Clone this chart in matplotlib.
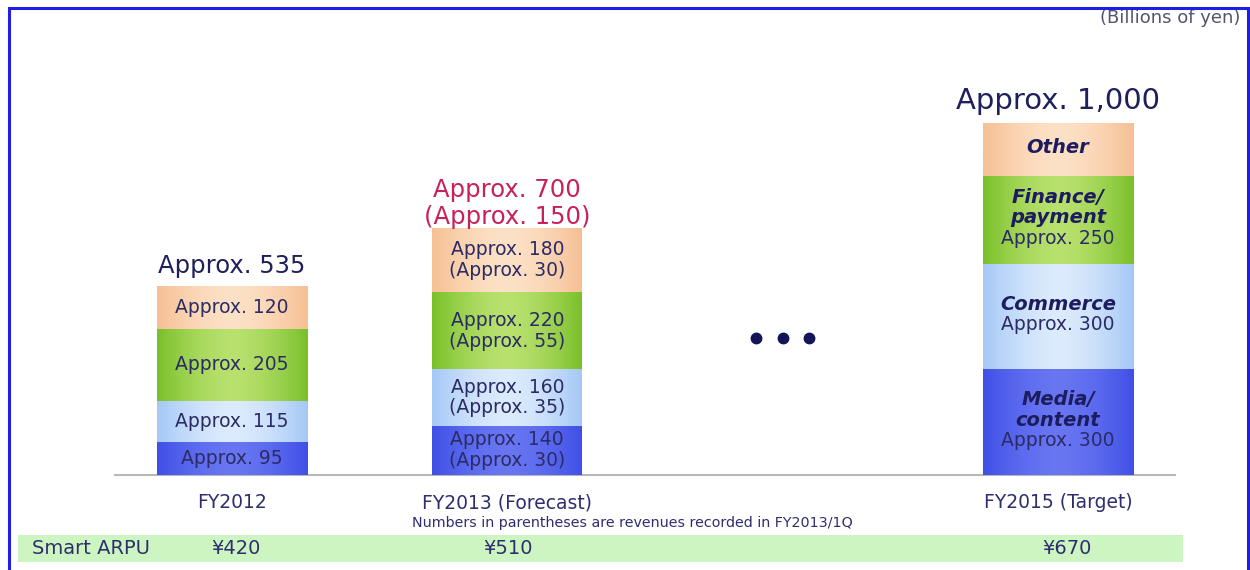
import numpy as np
import matplotlib
matplotlib.use("Agg")
import matplotlib.pyplot as plt
from matplotlib.patches import Rectangle

# ---- data -------------------------------------------------------------
years = ["FY2012", "FY2013 (Forecast)", "FY2015 (Target)"]
year_pos = [0, 1, 3]            # slot 2 holds the ellipsis
segments = ["Media/content", "Commerce", "Finance/payment", "Other"]

media = [95, 140, 300]
commerce = [115, 160, 300]
finance = [205, 220, 250]
other = [120, 180, 150]

q1_media = [None, 30, None]
q1_commerce = [None, 35, None]
q1_finance = [None, 55, None]
q1_other = [None, 30, None]

totals = [535, 700, 1000]
total_labels = ["Approx. 535", "Approx. 700\n(Approx. 150)", "Approx. 1,000"]
target_names = ["Media/\ncontent", "Commerce", "Finance/\npayment", "Other"]
target_show_value = [True, True, True, False]

arpu_label = "Smart ARPU"
arpu = ["¥420", "¥510", "¥670"]

# ---- layout -----------------------------------------------------------
W, H = 1250, 570
fig = plt.figure(figsize=(W / 100, H / 100), dpi=100)
fig.patch.set_facecolor("white")

px_per_unit_x = 275.3
px_per_unit_y = 0.352
x0_px, base_px = 232, 475
ax = fig.add_axes([0, 0, 1, 1])
ax.set_axis_off()
xlim = (-x0_px / px_per_unit_x, (W - x0_px) / px_per_unit_x)
ylim = (-(H - base_px) / px_per_unit_y, base_px / px_per_unit_y)

bar_w = 150 / px_per_unit_x
seg_colors = [  # (edge, centre) for a soft horizontal sheen
    ((64, 80, 230), (104, 118, 242)),
    ((165, 200, 246), (220, 235, 253)),
    ((122, 192, 42), (184, 225, 110)),
    ((246, 192, 148), (253, 225, 198)),
]
txt_col = "#2b2b66"
name_col = "#1c1c5e"
PT = 0.72  # points per pixel at 100 dpi


def sheen(x_left, x_right, y0, y1, edge, mid):
    t = np.linspace(-1, 1, 96)
    w = (1 - np.abs(t) ** 1.6)[:, None]
    e = np.array(edge) / 255.0
    m = np.array(mid) / 255.0
    img = (e + (m - e) * w)[None, :, :]
    ax.imshow(img, extent=[x_left, x_right, y0, y1], aspect="auto",
              interpolation="bilinear", zorder=2)


def fmt(v, q):
    s = f"Approx. {v}"
    if q is not None:
        s += f"\n(Approx. {q})"
    return s


series = [media, commerce, finance, other]
q1 = [q1_media, q1_commerce, q1_finance, q1_other]

for i, xp in enumerate(year_pos):
    bottom = 0
    for k in range(4):
        v = series[k][i]
        sheen(xp - bar_w / 2, xp + bar_w / 2, bottom, bottom + v, *seg_colors[k])
        yc = bottom + v / 2
        if i < 2:
            ax.text(xp, yc, fmt(v, q1[k][i]), ha="center", va="center",
                    fontsize=13.5, color=txt_col, zorder=3, linespacing=1.12)
        else:
            lines = [(s, True) for s in target_names[k].split("\n")]
            if target_show_value[k]:
                lines.append((f"Approx. {v}", False))
            n = len(lines)
            for j, (s, is_name) in enumerate(lines):
                dy_px = (j - (n - 1) / 2) * 20.5 - 2
                ax.annotate(s, (xp, yc), xytext=(0, -dy_px * PT),
                            textcoords="offset points", ha="center", va="center",
                            fontsize=14 if is_name else 13.5,
                            fontweight="bold" if is_name else "normal",
                            fontstyle="italic" if is_name else "normal",
                            color=name_col if is_name else txt_col, zorder=3)
        bottom += v

    col = "#c8205a" if i == 1 else "#1f1f5c"
    size = 21 if i == 2 else 17.5
    ax.annotate(total_labels[i], (xp, totals[i]), xytext=(0, 6 if i != 1 else 0),
                textcoords="offset points", ha="center", va="bottom",
                fontsize=size, color=col, linespacing=1.12, zorder=3)

# ellipsis between the forecast and target years
ax.plot([2 - 0.095, 2, 2 + 0.095], [390, 390, 390], "o", color="#141458",
        markersize=7.5, zorder=3)

# baseline
ax.plot([(115 - x0_px) / px_per_unit_x, (1175 - x0_px) / px_per_unit_x], [0, 0],
        color="#b8b8b8", lw=1.5, zorder=1)

ax.set_xlim(*xlim)
ax.set_ylim(*ylim)


def fx(px):
    return px / W


def fy(py):
    return 1 - py / H


# category labels under the bars
for xp, name in zip(year_pos, years):
    fig.text(fx(x0_px + xp * px_per_unit_x), fy(503), name, ha="center", va="center",
             fontsize=13.5, color="#2e2e6e")
fig.text(fx(632), fy(523), "Numbers in parentheses are revenues recorded in FY2013/1Q",
         ha="center", va="center", fontsize=10.3, color="#2e2e6e")

# ARPU band
fig.patches.append(Rectangle((fx(18), fy(562)), fx(1183) - fx(18), fy(535) - fy(562),
                             transform=fig.transFigure, facecolor="#cdf5c2",
                             edgecolor="none", zorder=0))
fig.text(fx(32), fy(548), arpu_label, ha="left", va="center", fontsize=14,
         color="#2e2e6e")
for xc, a in zip([236, 508, 1067], arpu):
    fig.text(fx(xc), fy(548), a, ha="center", va="center", fontsize=14, color="#2e2e6e")

fig.text(fx(1240), fy(18), "(Billions of yen)", ha="right", va="center",
         fontsize=13, color="#55556a")

# frame
fig.patches.append(Rectangle((fx(8.5), fy(575)), fx(1248) - fx(8.5), fy(7.5) - fy(575),
                             transform=fig.transFigure, facecolor="none",
                             edgecolor="#1e1ee6", lw=2.2, zorder=5, clip_on=False))

fig.savefig("out.png", dpi=100, facecolor="white")
